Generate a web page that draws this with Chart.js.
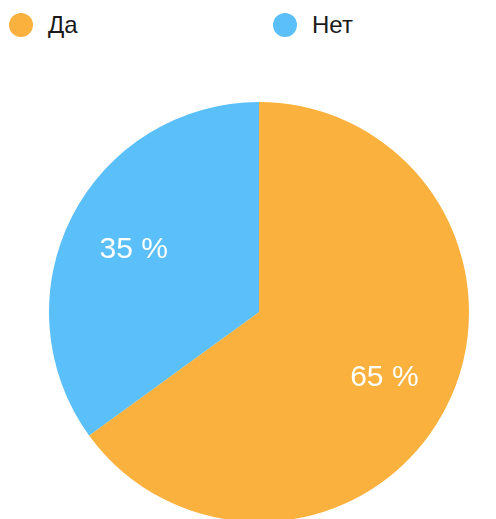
<!DOCTYPE html>
<html>
<head>
<meta charset="utf-8">
<script src="https://cdn.jsdelivr.net/npm/chart.js@4/dist/chart.umd.min.js"></script>
<style>
    html, body { margin: 0; padding: 0; background: #fff; overflow: hidden; width: 496px; height: 519px; }
    .legend-item { position: absolute; top: 12px; height: 26px; display: flex; align-items: center;
        font-family: 'Liberation Sans', Arial, sans-serif; font-size: 24px; color: #1a1a1a; }
    .legend-dot { width: 24px; height: 24px; border-radius: 50%; margin-right: 15px; }
    #wrap { position: absolute; left: 49px; top: 102px; width: 420px; height: 420px; }
</style>
</head>
<body>
<div id="legend"></div>
<div id="wrap"><canvas id="pieChart" width="420" height="420"></canvas></div>
<script>
const categories = ['Да', 'Нет'];
const shares = [65, 35];
const sliceColors = ['#fbb13d', '#5bbff9'];
const legendLeft = [9, 273];

const legendEl = document.getElementById('legend');
categories.forEach(function(name, i) {
    const item = document.createElement('div');
    item.className = 'legend-item';
    item.style.left = legendLeft[i] + 'px';
    const dot = document.createElement('span');
    dot.className = 'legend-dot';
    dot.style.background = sliceColors[i];
    const label = document.createElement('span');
    label.textContent = name;
    item.appendChild(dot);
    item.appendChild(label);
    legendEl.appendChild(item);
});

// percent labels placed at ~2/3 of the radius
const sliceLabels = {
    id: 'sliceLabels',
    afterDatasetsDraw: function(chart) {
        const ctx = chart.ctx;
        ctx.save();
        ctx.fillStyle = '#ffffff';
        ctx.font = "30px 'Liberation Sans', Arial, sans-serif";
        ctx.textAlign = 'center';
        ctx.textBaseline = 'middle';
        chart.getDatasetMeta(0).data.forEach(function(arc, i) {
            const p = arc.getProps(['x', 'y', 'startAngle', 'endAngle', 'outerRadius']);
            const mid = (p.startAngle + p.endAngle) / 2;
            const r = p.outerRadius * 0.67;
            ctx.fillText(shares[i] + ' %', p.x + Math.cos(mid) * r, p.y + Math.sin(mid) * r + 2);
        });
        ctx.restore();
    }
};

new Chart(document.getElementById('pieChart'), {
    type: 'pie',
    data: {
        labels: categories,
        datasets: [{
            data: shares,
            backgroundColor: sliceColors,
            borderWidth: 0
        }]
    },
    options: {
        responsive: false,
        animation: false,
        layout: { padding: 0 },
        plugins: {
            legend: { display: false },
            tooltip: { enabled: false }
        }
    },
    plugins: [sliceLabels]
});
</script>
</body>
</html>
